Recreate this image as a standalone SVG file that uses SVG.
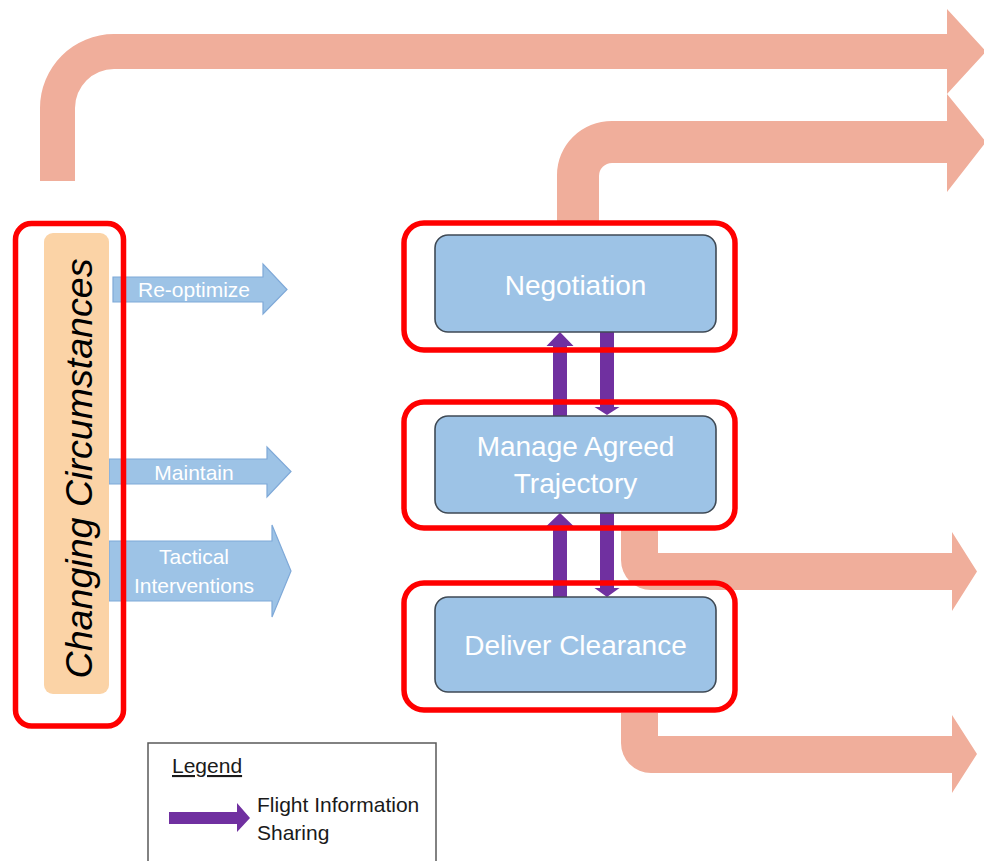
<svg xmlns="http://www.w3.org/2000/svg" width="984" height="861" viewBox="0 0 984 861">
<style>
.flow{fill:#F0AE9B}
.red{fill:none;stroke:#FF0000;stroke-width:5.5}
.box{fill:#9DC3E6;stroke:#3F4A55;stroke-width:1.6}
.bt{font-family:"Liberation Sans",Arial,sans-serif;font-size:28px;fill:#FFFFFF;text-anchor:middle}
.blue{fill:#9DC3E6;stroke:#7FA9D8;stroke-width:1.2}
.lt{font-family:"Liberation Sans",Arial,sans-serif;font-size:21px;fill:#FFFFFF;text-anchor:middle}
.fis{fill:#7030A0}
.leg{font-family:"Liberation Sans",Arial,sans-serif;font-size:21px;fill:#1A1A1A}
</style>
<rect width="984" height="861" fill="#FFFFFF"/>
<g id="connectors">
<path class="flow" d="M40,181 L40,108 A74,74 0 0 1 114,34 L947,34 L947,9 L986,51.5 L947,94 L947,69 L114,69 A39,39 0 0 0 75,108 L75,181 Z"/>
<path class="flow" d="M557,221 L557,175 A55,54 0 0 1 612,121 L947,121 L947,94 L986,142 L947,192 L947,163 L612,163 A13,13 0 0 0 599,176 L599,221 Z"/>
<path class="flow" d="M621,530 L621,560 A30,30 0 0 0 651,590 L952,590 L952,611 L977,571.5 L952,532 L952,553 L658,553 L658,530 Z"/>
<path class="flow" d="M621,713 L621,743 A30,30 0 0 0 651,773 L952,773 L952,793 L977,754 L952,715 L952,736 L658,736 L658,713 Z"/>
<path class="blue" d="M113,277 L263,277 L263,264 L287,289.5 L263,314 L263,302 L113,302 Z"/>
<path class="blue" d="M109,459 L267,459 L267,447 L291,471.5 L267,497 L267,484 L109,484 Z"/>
<path class="blue" d="M109,541 L272,541 L272,525 L291,571 L272,617 L272,601 L109,601 Z"/>
<text class="lt" x="194" y="297">Re-optimize</text>
<text class="lt" x="194" y="480">Maintain</text>
<text class="lt" x="194" y="564">Tactical</text>
<text class="lt" x="194" y="593">Interventions</text>
<path class="fis" d="M553,416 L553,346 L546.5,346 L560,332 L573.5,346 L567,346 L567,416 Z"/>
<path class="fis" d="M600,332 L614,332 L614,407 L619.5,407 L607,415 L594.5,407 L600,407 Z"/>
<path class="fis" d="M553,597 L553,526 L546.5,526 L560,513 L573.5,526 L567,526 L567,597 Z"/>
<path class="fis" d="M600,513 L614,513 L614,588 L619.5,588 L607,597 L594.5,588 L600,588 Z"/>
</g>
<g id="changing-circumstances">
<rect x="44" y="233" width="65" height="461" rx="9" fill="#FBD3A6"/>
<text transform="translate(92,468.5) rotate(-90)" text-anchor="middle" font-family="'Liberation Sans',Arial,sans-serif" font-style="italic" font-size="37.5" fill="#000000" textLength="420" lengthAdjust="spacingAndGlyphs">Changing Circumstances</text>
<rect class="red" x="15.5" y="223.5" width="108" height="502.5" rx="16"/>
</g>
<g id="negotiation">
<rect class="box" x="435" y="235" width="281" height="97" rx="13"/>
<text class="bt" x="575.5" y="295">Negotiation</text>
<rect class="red" x="404" y="223" width="331" height="127" rx="20"/>
</g>
<g id="manage-agreed-trajectory">
<rect class="box" x="435" y="416" width="281" height="97" rx="13"/>
<text class="bt" x="575.5" y="456">Manage Agreed</text>
<text class="bt" x="575.5" y="493">Trajectory</text>
<rect class="red" x="404" y="402" width="331" height="126" rx="20"/>
</g>
<g id="deliver-clearance">
<rect class="box" x="435" y="597" width="281" height="95" rx="13"/>
<text class="bt" x="575.5" y="655">Deliver Clearance</text>
<rect class="red" x="404" y="583" width="331" height="127" rx="20"/>
</g>
<g id="legend">
<rect x="148" y="743" width="288" height="130" fill="#FFFFFF" stroke="#595959" stroke-width="1.5"/>
<text class="leg" x="172" y="773" text-decoration="underline">Legend</text>
<path class="fis" d="M169,812 L237,812 L237,803 L250,818 L237,832 L237,824 L169,824 Z"/>
<text class="leg" x="257" y="812">Flight Information</text>
<text class="leg" x="257" y="840">Sharing</text>
</g>
</svg>
